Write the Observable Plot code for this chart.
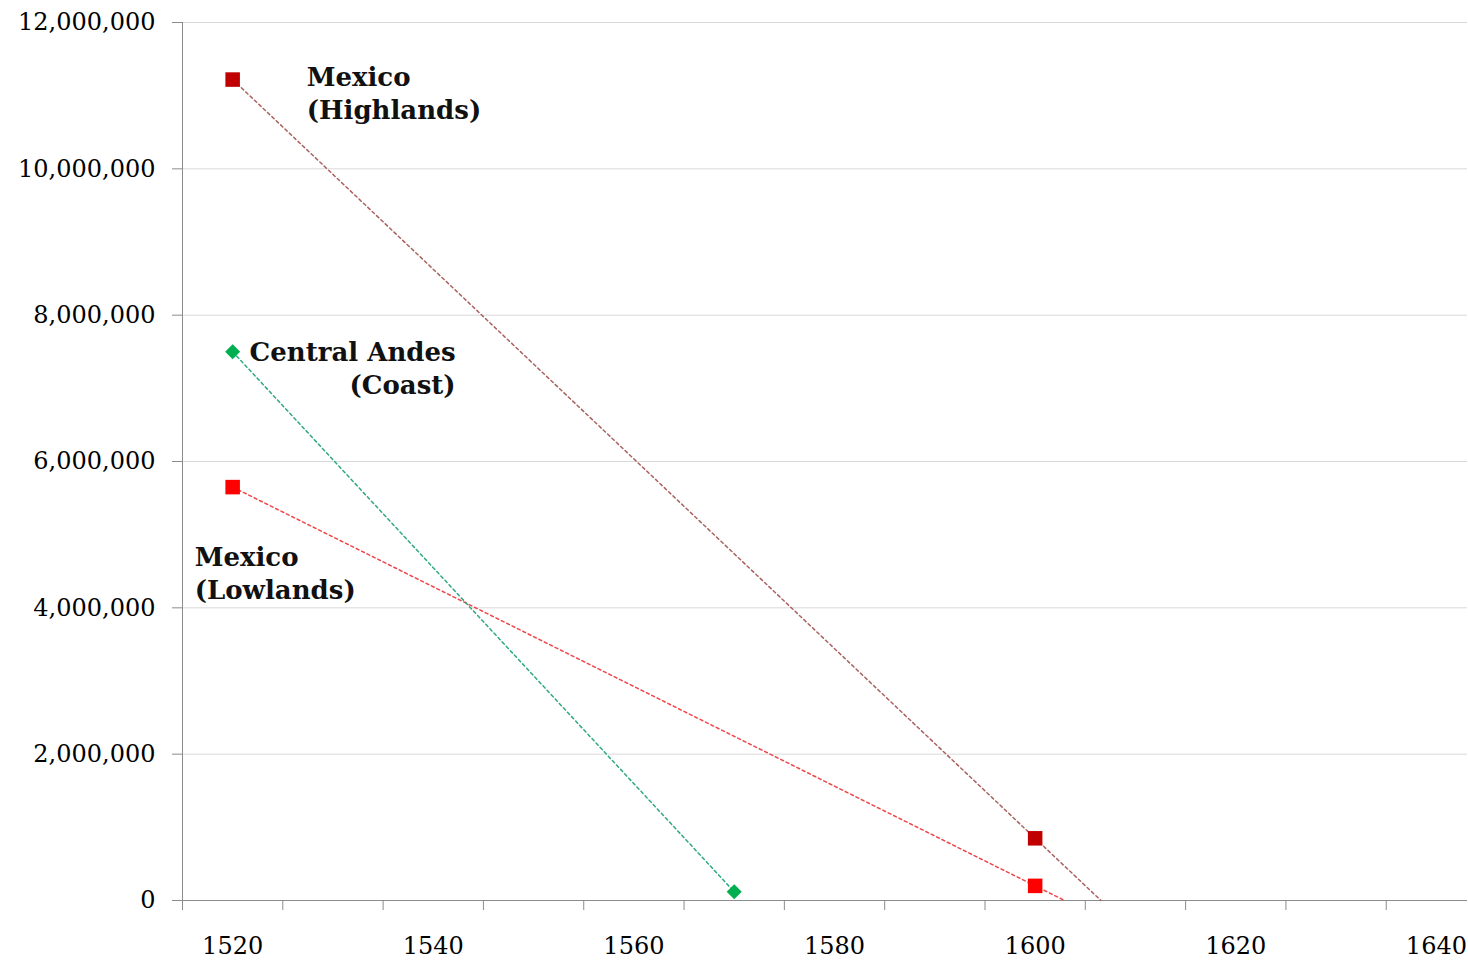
<!DOCTYPE html>
<html>
<head>
<meta charset="utf-8">
<script src="https://cdn.jsdelivr.net/npm/d3@7"></script>
<script src="https://cdn.jsdelivr.net/npm/@observablehq/plot@0.6"></script>
<style>
  html, body { margin: 0; padding: 0; background: #fff; }
  #chart svg { display: block; }
</style>
</head>
<body>
<div id="chart"></div>
<script>
// ---- data ----
const highlandsYears = [1520, 1600];
const highlandsPop = [11220000, 850000];
const lowlandsYears = [1520, 1600];
const lowlandsPop = [5650000, 200000];
const andesYears = [1520, 1570];
const andesPop = [7500000, 120000];

const seriesNames = ["Mexico\n(Highlands)", "Mexico\n(Lowlands)", "Central Andes\n(Coast)"];

const yTicks = [0, 2000000, 4000000, 6000000, 8000000, 10000000, 12000000];
const xTickMarks = [1515, 1525, 1535, 1545, 1555, 1565, 1575, 1585, 1595, 1605, 1615, 1625, 1635];
const xTickLabels = [1520, 1540, 1560, 1580, 1600, 1620, 1640];

// ---- build tables ----
function pts(years, pops, name) {
  return years.map((x, i) => ({x, y: pops[i], name}));
}
// linear trend through the two points, extended forward to zero
function trend(years, pops, name) {
  const [x1, x2] = years, [y1, y2] = pops;
  const xz = x2 + y2 * (x2 - x1) / (y1 - y2);
  return [{x: x1, y: y1, name}, {x: xz, y: 0, name}];
}

const hi = pts(highlandsYears, highlandsPop, seriesNames[0]);
const lo = pts(lowlandsYears, lowlandsPop, seriesNames[1]);
const an = pts(andesYears, andesPop, seriesNames[2]);

const font = "DejaVu Serif";
const labelStyle = {x: "x", y: "y", text: "name", lineAnchor: "top", lineHeight: 1.27, fontSize: 26, fontWeight: "bold", fill: "#111"};

const chart = Plot.plot({
  width: 1468,
  height: 960,
  marginLeft: 182,
  marginRight: 1,
  marginTop: 22,
  marginBottom: 60,
  style: {fontFamily: font, fontSize: "24px", color: "#000", background: "#fff"},
  x: {domain: [1515, 1643.1]},
  y: {domain: [0, 12000000]},
  marks: [
    Plot.gridY(yTicks.slice(1), {stroke: "#d9d9d9", strokeOpacity: 1}),
    Plot.axisY(yTicks, {tickSize: 10, tickPadding: 17, tickFormat: d3.format(","), fontSize: 24, stroke: "#8c8c8c", label: null}),
    Plot.axisX(xTickMarks, {tickSize: 10, tickFormat: () => "", stroke: "#8c8c8c", label: null}),
    Plot.axisX(xTickLabels, {tickSize: 0, tickPadding: 36, tickFormat: d => String(d), fontSize: 24, label: null}),
    Plot.ruleX([1515], {stroke: "#8c8c8c"}),
    Plot.ruleY([0], {stroke: "#8c8c8c"}),
    Plot.line(trend(highlandsYears, highlandsPop, seriesNames[0]), {x: "x", y: "y", stroke: "#a8625f", strokeWidth: 1.5, strokeDasharray: "3,3"}),
    Plot.line(trend(lowlandsYears, lowlandsPop, seriesNames[1]), {x: "x", y: "y", stroke: "#f0454a", strokeWidth: 1.5, strokeDasharray: "3,3"}),
    Plot.line(an, {x: "x", y: "y", stroke: "#2fa882", strokeWidth: 1.5, strokeDasharray: "3,3"}),
    Plot.dot(hi, {x: "x", y: "y", symbol: "square", r: 8.2, fill: "#c00000"}),
    Plot.dot(lo, {x: "x", y: "y", symbol: "square", r: 8.2, fill: "#ff0000"}),
    Plot.dot(an, {x: "x", y: "y", symbol: "diamond2", r: 6.8, fill: "#00b050"}),
    Plot.text([hi[0]], {...labelStyle, textAnchor: "start", dx: 74, dy: -17}),
    Plot.text([lo[0]], {...labelStyle, textAnchor: "start", dx: -38, dy: 55}),
    Plot.text([an[0]], {...labelStyle, textAnchor: "end", dx: 223, dy: -14})
  ]
});
document.getElementById("chart").appendChild(chart);
</script>
</body>
</html>
